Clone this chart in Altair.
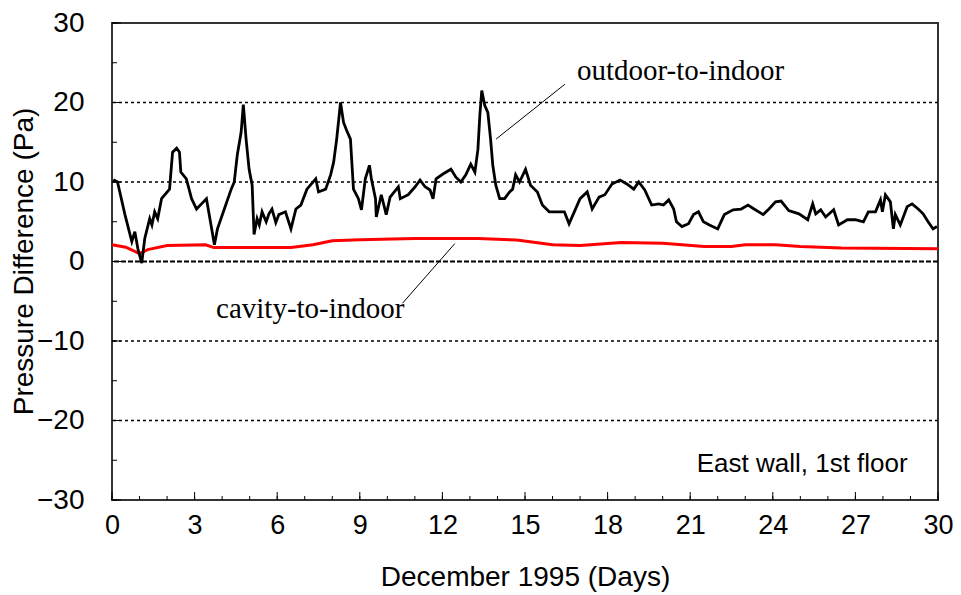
import altair as alt
import pandas as pd

# ---- data ----
out_day = [0.05, 0.2, 0.47, 0.72, 0.83, 0.94, 1.08, 1.19, 1.37, 1.45, 1.55, 1.66, 1.8, 2.09, 2.2, 2.35, 2.45, 2.5, 2.7,
           2.89, 3.07, 3.25, 3.43, 3.47, 3.72, 3.83, 4.08, 4.33, 4.44, 4.55, 4.69, 4.77, 4.87, 4.98, 5.09, 5.16,
           5.27, 5.35, 5.45, 5.6, 5.7, 5.81, 5.95, 6.06, 6.3, 6.5, 6.68, 6.86, 7.08, 7.4, 7.5, 7.76, 7.94, 8.05, 8.16, 8.3, 8.41,
           8.52, 8.66, 8.77, 8.95, 9.06, 9.2, 9.35, 9.42, 9.57, 9.6, 9.78, 9.96, 10.1, 10.4, 10.47, 10.76, 11.01,
           11.19, 11.37, 11.55, 11.66, 11.77, 12.02, 12.31, 12.49, 12.67, 12.85, 13.03, 13.18, 13.29, 13.36, 13.43,
           13.54, 13.65, 13.75, 13.83, 13.94, 14.08, 14.26, 14.44, 14.55, 14.66, 14.8, 15.02, 15.2, 15.45, 15.63,
           15.88, 16.17, 16.43, 16.6, 16.79, 17.0, 17.26, 17.44, 17.69, 17.9, 18.16, 18.45, 18.7, 18.95, 19.13,
           19.35, 19.6, 19.86, 20.03, 20.22, 20.4, 20.5, 20.7, 20.94, 21.12, 21.3, 21.48, 21.7, 22.0, 22.24, 22.56,
           22.85, 23.1, 23.32, 23.65, 23.86, 24.1, 24.3, 24.58, 24.95, 25.27, 25.45, 25.56, 25.74, 25.92, 26.21,
           26.39, 26.71, 27.0, 27.29, 27.47, 27.73, 27.91, 27.98, 28.09, 28.27, 28.38, 28.45, 28.63, 28.88, 29.06,
           29.28, 29.46, 29.64, 29.82, 29.96]
out_val = [10.3, 10.0, 5.9, 2.5, 3.75, 1.6, -0.2, 2.9, 5.4, 4.6, 6.25, 5.4, 7.9, 9.1, 13.75, 14.25, 13.75, 11.25, 10.4,
           7.9, 6.6, 7.25, 7.9, 7.1, 2.1, 4.1, 6.6, 9.1, 10.0, 13.4, 16.25, 19.75, 15.4, 11.6, 9.6, 3.4,
           5.4, 4.6, 6.25, 5.0, 6.0, 6.6, 4.9, 5.9, 6.25, 4.1, 6.6, 7.1, 9.1, 10.4, 8.75, 9.1, 10.9, 12.5, 15.4, 20.0, 17.5,
           16.5, 15.4, 9.1, 7.9, 6.5, 10.4, 12.1, 10.4, 7.9, 5.6, 8.4, 5.9, 8.1, 9.4, 7.9, 8.4, 9.4,
           10.25, 9.4, 9.0, 7.9, 10.4, 11.0, 11.6, 10.6, 10.0, 10.9, 12.25, 11.25, 14.1, 18.4, 21.5,
           19.6, 18.75, 15.4, 12.1, 9.6, 7.9, 7.9, 8.75, 9.1, 10.9, 10.0, 11.6, 9.6, 8.75, 7.1,
           6.25, 6.25, 6.25, 4.75, 6.25, 7.9, 8.75, 6.6, 8.1, 8.4, 9.75, 10.25, 9.75, 9.1, 10.0,
           9.0, 7.1, 7.25, 7.1, 7.75, 6.6, 5.0, 4.4, 4.75, 5.9, 6.25, 5.0, 4.6, 4.1, 5.9, 6.5,
           6.6, 7.1, 6.6, 5.9, 6.6, 7.5, 7.6, 6.4, 6.0, 5.25, 7.25, 6.0, 6.5, 5.6, 6.5,
           4.6, 5.25, 5.25, 5.0, 6.25, 6.25, 7.75, 6.25, 8.4, 7.5, 4.1, 5.9, 4.6, 6.9, 7.25,
           6.6, 6.0, 5.0, 4.1, 4.4]

cav_day = [0.0, 0.5, 1.0, 1.3, 2.0, 3.4, 3.7, 6.5, 7.3, 8.0, 9.0, 11.0, 13.3, 14.7, 16.0, 17.0, 18.5, 20.0,
           20.7, 21.5, 22.5, 23.0, 24.1, 25.0, 26.5, 30.0]
cav_val = [2.1, 1.8, 1.0, 1.5, 2.0, 2.1, 1.75, 1.75, 2.1, 2.6, 2.75, 2.9, 2.9, 2.7, 2.1, 2.0, 2.4, 2.3,
           2.1, 1.9, 1.9, 2.1, 2.1, 1.9, 1.7, 1.6]

x_ticks = list(range(0, 31, 3))
y_ticks = [-30, -20, -10, 0, 10, 20, 30]
grid_vals = [-20, -10, 10, 20]
minor_x = list(range(0, 31))
major_x = list(range(0, 31, 3))
minor_y = list(range(-30, 31, 5))
major_y = list(range(-30, 31, 10))

ann_text = ["outdoor-to-indoor", "cavity-to-indoor"]
ann_day = [20.65, 7.2]
ann_val = [24.0, -6.0]
lead_x = [13.95, 10.55]
lead_y = [15.4, -5.25]
lead_x2 = [16.45, 12.45]
lead_y2 = [22.3, 2.25]

W, H = 826, 477
xs = alt.Scale(domain=[0, 30], nice=False, zero=False)
ys = alt.Scale(domain=[-30, 30], nice=False, zero=False)

FONT = "Liberation Sans"

df_out = pd.DataFrame({"day": out_day, "val": out_val})
df_cav = pd.DataFrame({"day": cav_day, "val": cav_val})

x_axis = alt.Axis(values=x_ticks, title="December 1995 (Days)", grid=False, domain=False,
                  ticks=False, labelFont=FONT, labelFontSize=27, labelColor="black", labelFlush=False,
                  labelPadding=12, titleFont=FONT, titleFontSize=28, titleFontWeight="normal",
                  titleColor="black", titleY=77, titleBaseline="middle")
y_axis = alt.Axis(values=y_ticks, title="Pressure Difference (Pa)", grid=False, domain=False,
                  ticks=False, labelFont=FONT, labelFontSize=28, labelColor="black", labelFlush=False,
                  labelPadding=28, titleFont=FONT, titleFontSize=28, titleFontWeight="normal",
                  titleColor="black", titleX=-88, titleY=238, titleAngle=-90,
                  titleAlign="center", titleBaseline="middle")

# axis carrier layer (invisible points) that owns both axes
axes_layer = alt.Chart(df_out).mark_point(opacity=0).encode(
    x=alt.X("day:Q", scale=xs, axis=x_axis),
    y=alt.Y("val:Q", scale=ys, axis=y_axis))

grid = alt.Chart(pd.DataFrame({"val": grid_vals})).mark_rule(
    color="black", strokeDash=[3, 3], strokeWidth=1.3
).encode(y=alt.Y("val:Q"))

zero = alt.Chart(pd.DataFrame({"val": [0]})).mark_rule(
    color="black", strokeDash=[5, 2], strokeWidth=2
).encode(y=alt.Y("val:Q"))

xminor = alt.Chart(pd.DataFrame({"day": minor_x})).mark_rule(color="black", strokeWidth=1).encode(
    x=alt.X("day:Q"), y=alt.value(H), y2=alt.value(H - 4))
xmajor = alt.Chart(pd.DataFrame({"day": major_x})).mark_rule(color="black", strokeWidth=1).encode(
    x=alt.X("day:Q"), y=alt.value(H), y2=alt.value(H - 8))
yminor = alt.Chart(pd.DataFrame({"val": minor_y})).mark_rule(color="black", strokeWidth=1).encode(
    y=alt.Y("val:Q"), x=alt.value(0), x2=alt.value(5))
ymajor = alt.Chart(pd.DataFrame({"val": major_y})).mark_rule(color="black", strokeWidth=1).encode(
    y=alt.Y("val:Q"), x=alt.value(0), x2=alt.value(9))

cav_line = alt.Chart(df_cav).mark_line(color="#ff0000", strokeWidth=3).encode(
    x=alt.X("day:Q"), y=alt.Y("val:Q"))
out_line = alt.Chart(df_out).mark_line(color="black", strokeWidth=2.8).encode(
    x=alt.X("day:Q"), y=alt.Y("val:Q"))

df_ann = pd.DataFrame({"t": ann_text, "day": ann_day, "val": ann_val,
                       "x1": lead_x, "y1": lead_y, "x2": lead_x2, "y2": lead_y2})
leaders = alt.Chart(df_ann).mark_rule(color="black", strokeWidth=1).encode(
    x=alt.X("x1:Q"), y=alt.Y("y1:Q"), x2="x2:Q", y2="y2:Q")
ann = alt.Chart(df_ann).mark_text(font="Liberation Serif", fontSize=29, color="black",
                                  align="center", baseline="middle").encode(
    x=alt.X("day:Q"), y=alt.Y("val:Q"), text="t:N")

note = alt.Chart(pd.DataFrame({"t": ["East wall, 1st floor"], "day": [28.9], "val": [-26.5]})).mark_text(
    font=FONT, fontSize=26, color="black", align="right", baseline="alphabetic").encode(
    x=alt.X("day:Q"), y=alt.Y("val:Q"), text="t:N")

chart = alt.layer(axes_layer, grid, zero, xminor, xmajor, yminor, ymajor, cav_line, out_line,
                  leaders, ann, note).properties(
    width=W, height=H,
    autosize=alt.AutoSizeParams(type="none"),
    padding={"left": 104, "top": 15, "right": 15, "bottom": 95},
    background="white",
).configure_view(stroke="#333333", strokeWidth=2)

chart.save("out.html", embed_options={"renderer": "svg", "actions": False})
